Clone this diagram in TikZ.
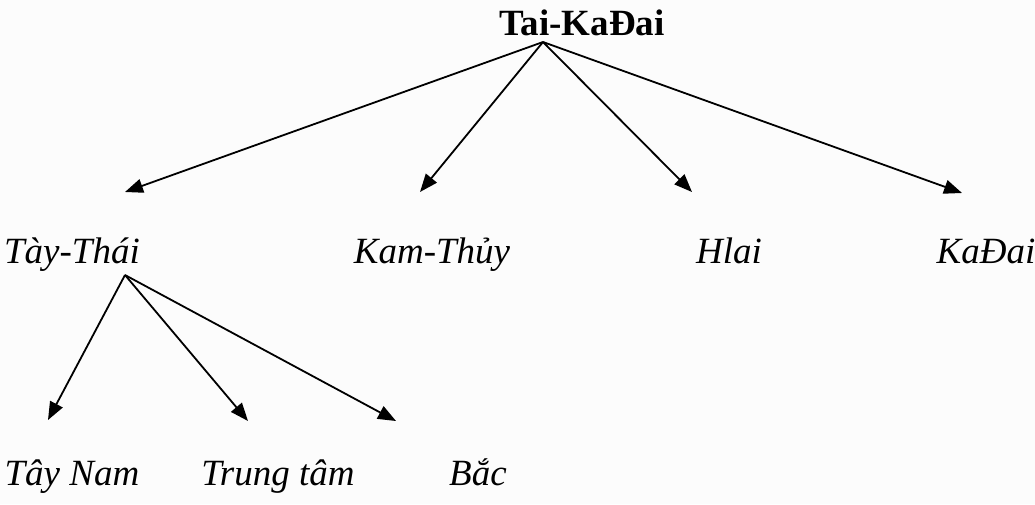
\documentclass[tikz,border=0pt]{standalone}
\usepackage{fontspec}
\setmainfont{Liberation Serif}
\usetikzlibrary{arrows.meta}
\definecolor{paper}{RGB}{252,252,252}
\begin{document}
\begin{tikzpicture}[x=1pt,y=-1pt,
  lang/.style={anchor=base,inner sep=0pt,font=\fontsize{37}{44}\selectfont\itshape},
  root/.style={anchor=base,inner sep=0pt,font=\fontsize{37}{44}\selectfont\bfseries},
  branch/.style={line width=1.8pt,-{Triangle[length=18pt,width=14pt]}}]
  \fill[paper] (0,0) rectangle (1035,504);
  \useasboundingbox (0,0) rectangle (1035,504);

  % family root and its four branches
  \node[root] (tk) at (582,35) {Tai-KaĐai};
  \node[lang] (tt) at (72,263) {Tày-Thái};
  \node[lang] (kt) at (432,263) {Kam-Thủy};
  \node[lang] (hl) at (729,263) {Hlai};
  \node[lang] (kd) at (986,263) {KaĐai};

  % sub-branches of Tày-Thái
  \node[lang] (tn) at (72,485) {Tây Nam};
  \node[lang] (tr) at (278,485) {Trung tâm};
  \node[lang] (bc) at (478,485) {Bắc};

  % arrow origins and tips
  \coordinate (tkfoot) at (543,42);
  \coordinate (ttfoot) at (125,275);
  \coordinate (ttTip) at (125,192);
  \coordinate (ktTip) at (420,192);
  \coordinate (hlTip) at (692,192);
  \coordinate (kdTip) at (962,193);
  \coordinate (tnTip) at (48,420);
  \coordinate (trTip) at (248,421);
  \coordinate (bcTip) at (396,421);

  \draw[branch] (tkfoot) -- (ttTip);
  \draw[branch] (tkfoot) -- (ktTip);
  \draw[branch] (tkfoot) -- (hlTip);
  \draw[branch] (tkfoot) -- (kdTip);
  \draw[branch] (ttfoot) -- (tnTip);
  \draw[branch] (ttfoot) -- (trTip);
  \draw[branch] (ttfoot) -- (bcTip);
\end{tikzpicture}
\end{document}
